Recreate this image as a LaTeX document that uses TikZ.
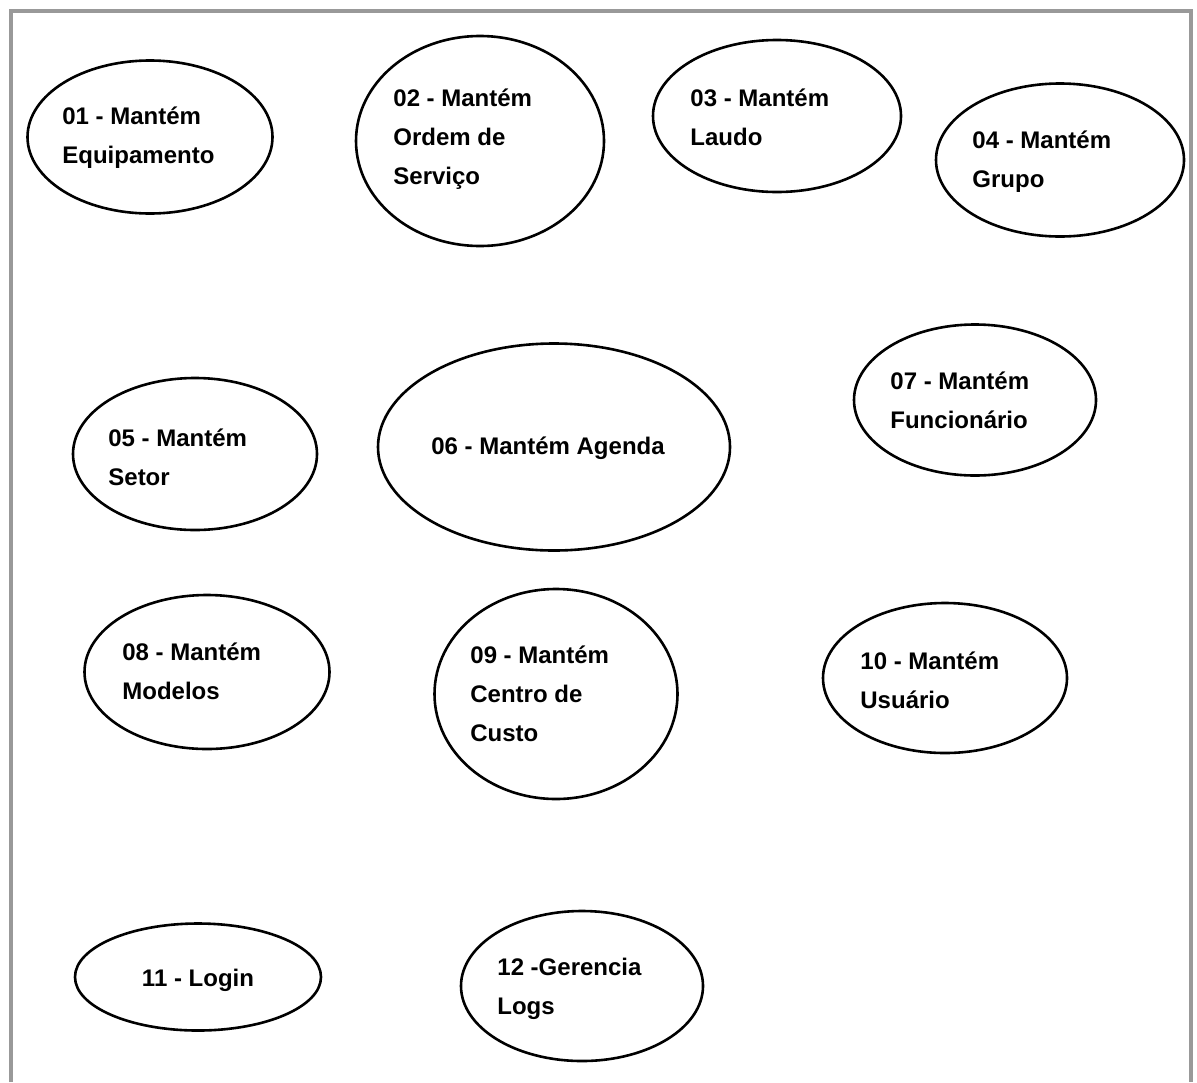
\documentclass[tikz,border=0pt]{standalone}
\usepackage{fontspec}
\setmainfont{Liberation Sans}
\usetikzlibrary{shapes.geometric}
\begin{document}
\begin{tikzpicture}[x=0.5pt,y=-0.5pt,
  uc/.style={ellipse, draw=black, line width=1.3pt, inner sep=0pt},
  sz/.style 2 args={minimum width=#1*0.5pt, minimum height=#2*0.5pt},
  lbl/.style={inner sep=0pt, align=left, anchor=west, font=\bfseries\fontsize{12}{19.5}\selectfont},
  clbl/.style={inner sep=0pt, align=center, anchor=center, font=\bfseries\fontsize{12}{19.5}\selectfont},
  frame/.style={draw=black!40, line width=1.8pt}]
\useasboundingbox (0,0) rectangle (1197,1082);
\fill[white] (0,0) rectangle (1197,1082);
\coordinate (fbl) at (11,1082);
\coordinate (ftl) at (11,11);
\coordinate (ftr) at (1191,11);
\coordinate (fbr) at (1191,1082);
\draw[frame] (fbl) -- (ftl) -- (ftr) -- (fbr);

\node[uc, sz={245}{153}] (e1) at (150,137) {};
\node[lbl] (t1) at (62,138) {01 - Mantém\\Equipamento};

\node[uc, sz={248}{210}] (e2) at (480,141) {};
\node[lbl] (t2) at (393,139) {02 - Mantém\\Ordem de\\Serviço};

\node[uc, sz={248}{152}] (e3) at (777,116) {};
\node[lbl] (t3) at (690,117) {03 - Mantém\\Laudo};

\node[uc, sz={248}{153}] (e4) at (1060,160) {};
\node[lbl] (t4) at (972,162) {04 - Mantém\\Grupo};

\node[uc, sz={244}{152}] (e5) at (195,454) {};
\node[lbl] (t5) at (108,457) {05 - Mantém\\Setor};

\node[uc, sz={352}{207}] (e6) at (554,447) {};
\node[clbl] (t6) at (548,448) {06 - Mantém Agenda};

\node[uc, sz={242}{151}] (e7) at (975,400) {};
\node[lbl] (t7) at (890,400) {07 - Mantém\\Funcionário};

\node[uc, sz={245}{154}] (e8) at (207,672) {};
\node[lbl] (t8) at (122,671) {08 - Mantém\\Modelos};

\node[uc, sz={243}{210}] (e9) at (556,694) {};
\node[lbl] (t9) at (470,694) {09 - Mantém\\Centro de\\Custo};

\node[uc, sz={244}{150}] (e10) at (945,678) {};
\node[lbl] (t10) at (860,680) {10 - Mantém\\Usuário};

\node[uc, sz={246}{107}] (e11) at (198,977) {};
\node[clbl] (t11) at (198,980) {11 - Login};

\node[uc, sz={242}{150}] (e12) at (582,986) {};
\node[lbl] (t12) at (497,989) {12 -Gerencia\\Logs};
\end{tikzpicture}
\end{document}
